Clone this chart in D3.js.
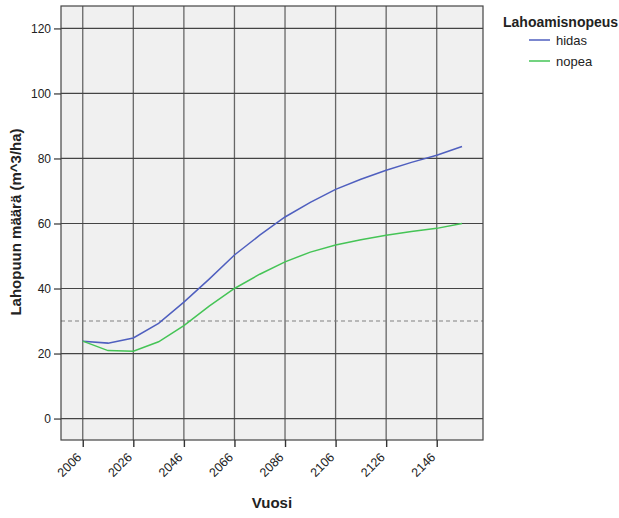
<!DOCTYPE html>
<html>
<head>
<meta charset="utf-8">
<script src="https://cdn.jsdelivr.net/npm/d3@7"></script>
<style>
  body { margin: 0; background: #fff; }
  svg { display: block; font-family: "Liberation Sans", Arial, sans-serif; }
</style>
</head>
<body>
<svg id="chart" width="619" height="518"></svg>
<script>
// Decay-rate scenarios: deadwood volume over time
const years = [2006, 2016, 2026, 2036, 2046, 2056, 2066, 2076, 2086, 2096, 2106, 2116, 2126, 2136, 2146, 2156];
const hidas = [23.8, 23.2, 24.8, 29.3, 35.8, 42.9, 50.3, 56.4, 62.0, 66.5, 70.5, 73.6, 76.4, 78.8, 81.0, 83.7];
const nopea = [23.8, 20.9, 20.7, 23.6, 28.6, 34.6, 40.0, 44.4, 48.2, 51.2, 53.4, 55.0, 56.4, 57.5, 58.5, 60.0];
const xTicks = [2006, 2026, 2046, 2066, 2086, 2106, 2126, 2146];
const yTicks = [0, 20, 40, 60, 80, 100, 120];
const threshold = 30;

const series = [
  { name: "hidas", values: hidas, color: "#4f5fbf" },
  { name: "nopea", values: nopea, color: "#45c456" }
];

const svg = d3.select("#chart");
const plot = { left: 61, right: 483, top: 6, bottom: 440 };

const x = d3.scaleLinear().domain([1997.4, 2164.3]).range([plot.left, plot.right]);
const y = d3.scaleLinear().domain([-6.6, 126.9]).range([plot.bottom, plot.top]);

// plot background
svg.append("rect")
  .attr("x", plot.left).attr("y", plot.top)
  .attr("width", plot.right - plot.left).attr("height", plot.bottom - plot.top)
  .attr("fill", "#f0f0f0");

// grid
const grid = svg.append("g");
grid.selectAll("line.v").data(xTicks).join("line")
  .attr("x1", d => x(d)).attr("x2", d => x(d))
  .attr("y1", plot.top).attr("y2", plot.bottom)
  .attr("stroke", "#666").attr("stroke-width", 1.3);
grid.selectAll("line.h").data(yTicks).join("line")
  .attr("x1", plot.left).attr("x2", plot.right)
  .attr("y1", d => y(d)).attr("y2", d => y(d))
  .attr("stroke", "#444").attr("stroke-width", 1.2);

// threshold reference line
svg.append("line")
  .attr("x1", plot.left).attr("x2", plot.right)
  .attr("y1", y(threshold)).attr("y2", y(threshold))
  .attr("stroke", "#808080").attr("stroke-width", 1.2)
  .attr("stroke-dasharray", "4,3");

// series lines
const line = d3.line().x((d, i) => x(years[i])).y(d => y(d));
svg.selectAll("path.series").data(series).join("path")
  .attr("class", "series")
  .attr("d", d => line(d.values))
  .attr("fill", "none")
  .attr("stroke", d => d.color)
  .attr("stroke-width", 1.5);

// frame
svg.append("rect")
  .attr("x", plot.left).attr("y", plot.top)
  .attr("width", plot.right - plot.left).attr("height", plot.bottom - plot.top)
  .attr("fill", "none").attr("stroke", "#444").attr("stroke-width", 1.2);

// y axis
const yAxis = svg.append("g")
  .attr("transform", `translate(${plot.left},0)`)
  .call(d3.axisLeft(y).tickValues(yTicks).tickSize(7).tickPadding(3));
yAxis.select(".domain").remove();
yAxis.selectAll(".tick line").attr("stroke", "#333").attr("stroke-width", 1.2);
yAxis.selectAll(".tick text").attr("font-size", 12).attr("fill", "#222")
  .attr("font-family", "'Liberation Sans', Arial, sans-serif");

// x axis
const xAxis = svg.append("g")
  .attr("transform", `translate(0,${plot.bottom})`)
  .call(d3.axisBottom(x).tickValues(xTicks).tickFormat(d3.format("d")).tickSize(7));
xAxis.select(".domain").remove();
xAxis.selectAll(".tick line").attr("stroke", "#333").attr("stroke-width", 1.4);
xAxis.selectAll(".tick text")
  .attr("font-size", 12.5).attr("fill", "#222")
  .attr("font-family", "'Liberation Sans', Arial, sans-serif")
  .attr("text-anchor", "end")
  .attr("dy", null).attr("y", 0)
  .attr("transform", "translate(-1,18) rotate(-45)");

// axis titles
svg.append("text")
  .attr("transform", `translate(21,222) rotate(-90)`)
  .attr("text-anchor", "middle")
  .attr("font-size", 15).attr("font-weight", "bold").attr("fill", "#222")
  .text("Lahopuun määrä (m^3/ha)");
svg.append("text")
  .attr("x", 272).attr("y", 508)
  .attr("text-anchor", "middle")
  .attr("font-size", 15).attr("font-weight", "bold").attr("fill", "#222")
  .text("Vuosi");

// legend
const legend = svg.append("g");
legend.append("text")
  .attr("x", 503).attr("y", 27)
  .attr("font-size", 14).attr("font-weight", "bold").attr("fill", "#222")
  .text("Lahoamisnopeus");
const items = legend.selectAll("g.item").data(series).join("g")
  .attr("class", "item")
  .attr("transform", (d, i) => `translate(0,${40 + i * 21})`);
items.append("line")
  .attr("x1", 529).attr("x2", 550).attr("y1", 0).attr("y2", 0)
  .attr("stroke", d => d.color).attr("stroke-width", 1.5);
items.append("text")
  .attr("x", 556).attr("y", 4.5)
  .attr("font-size", 13).attr("fill", "#222")
  .text(d => d.name);
</script>
</body>
</html>
